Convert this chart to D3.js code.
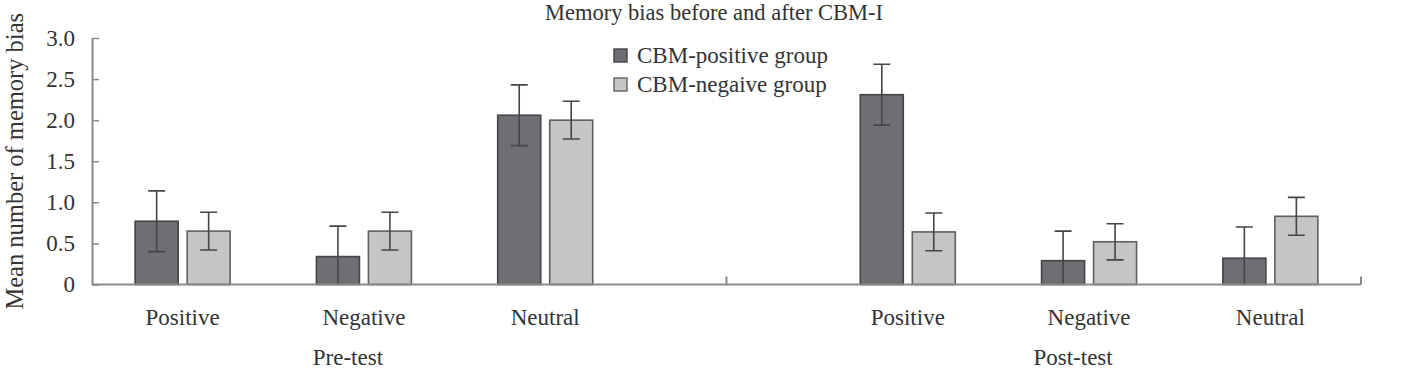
<!DOCTYPE html>
<html>
<head>
<meta charset="utf-8">
<script src="https://cdn.jsdelivr.net/npm/d3@7"></script>
<style>
  html, body { margin: 0; padding: 0; background: #fff; }
  svg text { font-family: "Liberation Serif", "Times New Roman", serif; fill: #333; }
</style>
</head>
<body>
<svg id="chart" width="1401" height="384"></svg>
<script>
// ---- data ----
const phases = ["Pre-test", "Post-test"];
const categories = ["Positive", "Negative", "Neutral"];
const seriesNames = ["CBM-positive group", "CBM-negaive group"];
// values ordered: Pre Positive, Pre Negative, Pre Neutral, Post Positive, Post Negative, Post Neutral
const positiveGroupMeans = [0.77, 0.34, 2.06, 2.31, 0.29, 0.32];
const positiveGroupErrors = [0.37, 0.37, 0.37, 0.37, 0.36, 0.38];
const negativeGroupMeans = [0.65, 0.65, 2.00, 0.64, 0.52, 0.83];
const negativeGroupErrors = [0.23, 0.23, 0.23, 0.23, 0.22, 0.23];
const yTicks = [0, 0.5, 1.0, 1.5, 2.0, 2.5, 3.0];
const titleText = "Memory bias before and after CBM-I";
const yLabel = "Mean number of memory bias";

// ---- layout ----
const svg = d3.select("#chart");
const plotLeft = 92, plotRight = 1361, plotTop = 38, plotBottom = 284.5;
const colors = ["#6e6f73", "#c4c5c7"];
const strokes = ["#444448", "#5e5f62"];
const fs = "23px";

// slot keys: 3 pre categories, a blank separator slot, 3 post categories
const slots = [];
phases.forEach((p, pi) => {
  categories.forEach(c => slots.push(p + "|" + c));
  if (pi < phases.length - 1) slots.push("__gap" + pi);
});

const x0 = d3.scaleBand().domain(slots).range([plotLeft, plotRight]).paddingInner(0.476).paddingOuter(0.238);
const x1 = d3.scaleBand().domain(seriesNames).range([0, x0.bandwidth()]).paddingInner(0.173);
const y = d3.scaleLinear().domain([0, 3]).range([plotBottom, plotTop]);

// build rows
const rows = [];
phases.forEach((p, pi) => categories.forEach((c, ci) => {
  const i = pi * categories.length + ci;
  rows.push({
    key: p + "|" + c, phase: p, cat: c,
    vals: [
      { s: seriesNames[0], v: positiveGroupMeans[i], e: positiveGroupErrors[i], k: 0 },
      { s: seriesNames[1], v: negativeGroupMeans[i], e: negativeGroupErrors[i], k: 1 }
    ]
  });
}));

// title
svg.append("text").attr("x", 714).attr("y", 20).attr("text-anchor", "middle")
  .style("font-size", "22.5px").text(titleText);

// y axis (ticks point inward)
const yAxis = d3.axisLeft(y).tickValues(yTicks)
  .tickFormat(d => d === 0 ? "0" : d.toFixed(1)).tickSizeInner(-7).tickSizeOuter(0).tickPadding(17);
const ya = svg.append("g").attr("transform", `translate(${plotLeft},0)`).call(yAxis);
ya.select(".domain").attr("stroke", "#8a8a8a").attr("stroke-width", 2);
ya.selectAll(".tick line").attr("stroke", "#8a8a8a").attr("stroke-width", 1.5);
ya.selectAll(".tick text").style("font-size", fs).attr("fill", "#333")
  .style("font-family", '"Liberation Serif", serif');

// y label
svg.append("text").attr("transform", `translate(23,${(plotTop + plotBottom) / 2}) rotate(-90)`)
  .attr("text-anchor", "middle").style("font-size", "24.5px").text(yLabel);

// bars
const g = svg.append("g");
const groups = g.selectAll("g.cat").data(rows).join("g")
  .attr("transform", d => `translate(${x0(d.key)},0)`);
groups.selectAll("rect").data(d => d.vals).join("rect")
  .attr("x", d => x1(d.s)).attr("width", x1.bandwidth())
  .attr("y", d => y(d.v)).attr("height", d => y(0) - y(d.v))
  .attr("fill", d => colors[d.k]).attr("stroke", d => strokes[d.k]).attr("stroke-width", 1.6);

// error bars
const capW = 17;
groups.selectAll("path.err").data(d => d.vals).join("path")
  .attr("class", "err")
  .attr("d", d => {
    const cx = x1(d.s) + x1.bandwidth() / 2;
    const yt = y(d.v + d.e), yb = y(Math.max(0, d.v - d.e));
    const yb2 = y(d.v - d.e);
    return `M${cx - capW / 2},${yt}H${cx + capW / 2}M${cx},${yt}V${Math.min(yb2, plotBottom)}` +
      (d.v - d.e > 0 ? `M${cx - capW / 2},${yb}H${cx + capW / 2}` : "");
  })
  .attr("stroke", "#454548").attr("stroke-width", 1.6).attr("fill", "none");

// x axis line + separator ticks
const xa = svg.append("g");
xa.append("line").attr("x1", plotLeft).attr("x2", plotRight).attr("y1", plotBottom).attr("y2", plotBottom)
  .attr("stroke", "#8a8a8a").attr("stroke-width", 2);
const sepX = [x0("__gap0") + x0.bandwidth() / 2, plotRight];
xa.selectAll("line.sep").data(sepX).join("line").attr("class", "sep")
  .attr("x1", d => d).attr("x2", d => d).attr("y1", plotBottom).attr("y2", plotBottom - 8)
  .attr("stroke", "#8a8a8a").attr("stroke-width", 2);

// category labels
svg.append("g").selectAll("text").data(rows).join("text")
  .attr("x", d => x0(d.key) + x0.bandwidth() / 2).attr("y", 325)
  .attr("text-anchor", "middle").style("font-size", fs).text(d => d.cat);

// phase labels
svg.append("g").selectAll("text").data(phases).join("text")
  .attr("x", p => x0(p + "|" + categories[1]) + x0.bandwidth() / 2 - 16).attr("y", 365)
  .attr("text-anchor", "middle").style("font-size", fs).text(p => p);

// legend
const lg = svg.append("g").attr("transform", "translate(614,49)");
const li = lg.selectAll("g").data(seriesNames).join("g")
  .attr("transform", (d, i) => `translate(0,${i * 29})`);
li.append("rect").attr("width", 13).attr("height", 13)
  .attr("fill", (d, i) => colors[i]).attr("stroke", (d, i) => strokes[i]).attr("stroke-width", 1.4);
li.append("text").attr("x", 23).attr("y", 14).style("font-size", fs).text(d => d);
</script>
</body>
</html>
